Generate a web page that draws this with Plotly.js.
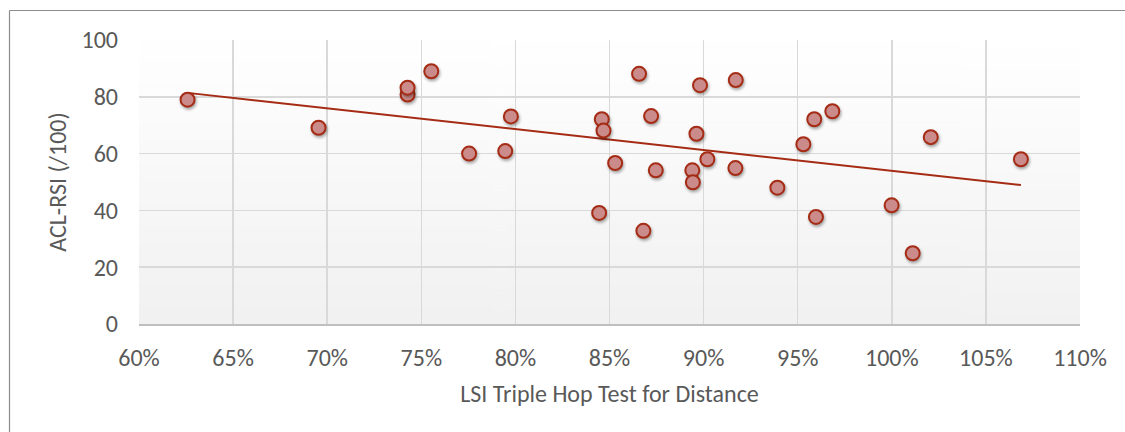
<!DOCTYPE html>
<html>
<head>
<meta charset="utf-8">
<script src="https://cdn.plot.ly/plotly-3.0.1.min.js"></script>
<style>
  html, body { margin: 0; padding: 0; background: #ffffff; }
  #chart { width: 1125px; height: 432px; }
  .shadowed .point { filter: drop-shadow(1px 2px 1.5px rgba(0,0,0,0.35)); }
</style>
</head>
<body>
<div id="chart"></div>
<script>
// LSI Triple Hop Test for Distance (fraction) and ACL-RSI score
const lsiTripleHop = [0.6258, 0.6954, 0.7427, 0.7427, 0.7553, 0.7754, 0.7946, 0.7976,
  0.8445, 0.8459, 0.8468, 0.8530, 0.8657, 0.8680, 0.8721, 0.8746, 0.8940, 0.8943,
  0.8962, 0.8981, 0.9020, 0.9171, 0.9169, 0.9392, 0.9530, 0.9588, 0.9597, 0.9684,
  0.9999, 1.0111, 1.0207, 1.0686];
const aclRsi = [79.0, 69.1, 80.8, 83.2, 89.0, 60.0, 60.9, 73.1,
  39.1, 72.1, 68.1, 56.7, 88.1, 32.8, 73.2, 54.1, 54.1, 49.9,
  67.0, 84.1, 58.0, 85.9, 54.9, 48.0, 63.3, 72.1, 37.7, 74.9,
  41.8, 24.9, 65.8, 58.0];
const xTickVals = [0.60, 0.65, 0.70, 0.75, 0.80, 0.85, 0.90, 0.95, 1.00, 1.05, 1.10];
const yTickVals = [0, 20, 40, 60, 80, 100];
const xTitle = 'LSI Triple Hop Test for Distance';
const yTitle = 'ACL-RSI (/100)';

// linear least-squares trendline (as in the spreadsheet trendline)
const n = lsiTripleHop.length;
const mx = lsiTripleHop.reduce((a, b) => a + b, 0) / n;
const my = aclRsi.reduce((a, b) => a + b, 0) / n;
let sxy = 0, sxx = 0;
for (let i = 0; i < n; i++) {
  sxy += (lsiTripleHop[i] - mx) * (aclRsi[i] - my);
  sxx += (lsiTripleHop[i] - mx) ** 2;
}
const slope = sxy / sxx;
const intercept = my - slope * mx;
const xMin = Math.min(...lsiTripleHop), xMax = Math.max(...lsiTripleHop);
const trendX = [xMin, xMax];
const trendY = trendX.map(v => intercept + slope * v);

// gradient background image for plot area
const cv = document.createElement('canvas');
cv.width = 4; cv.height = 256;
const ctx = cv.getContext('2d');
const g = ctx.createLinearGradient(0, 0, 0, 256);
g.addColorStop(0, '#ffffff');
g.addColorStop(1, '#f1f1f1');
ctx.fillStyle = g; ctx.fillRect(0, 0, 4, 256);
const bgUrl = cv.toDataURL();

const W = 1125, H = 432;
const M = { l: 139, r: 45, t: 40, b: 108 };
const pw = W - M.l - M.r, ph = H - M.t - M.b;
const px = v => (v - M.l) / pw;          // pixel -> paper x
const py = v => 1 - (v - M.t) / ph;      // pixel -> paper y

const font = 'Calibri, Carlito, "Open Sans", sans-serif';
const textCol = '#595959';
const fs = 24;

const traces = [
  {
    x: trendX, y: trendY, type: 'scatter', mode: 'lines',
    line: { color: '#a52b14', width: 2 }, hoverinfo: 'skip', showlegend: false
  },
  {
    x: lsiTripleHop, y: aclRsi, type: 'scatter', mode: 'markers',
    marker: { size: 14, color: '#cb8b8a', line: { color: '#a52b14', width: 2 } },
    showlegend: false
  }
];

const layout = {
  width: W, height: H,
  margin: M,
  paper_bgcolor: '#ffffff',
  plot_bgcolor: 'rgba(0,0,0,0)',
  font: { family: font, size: fs, color: textCol },
  showlegend: false,
  xaxis: {
    range: [0.6, 1.1], tickvals: xTickVals, tickformat: '.0%',
    showgrid: true, gridcolor: '#d9d9d9', gridwidth: 1.5,
    zeroline: false, showline: true, linecolor: '#bfbfbf', linewidth: 1.5,
    ticks: '', ticklabelstandoff: 12,
    tickfont: { family: font, size: fs, color: textCol },
    title: { text: xTitle, standoff: 14, font: { family: font, size: fs, color: textCol } },
    automargin: false, fixedrange: true
  },
  yaxis: {
    range: [0, 100], tickvals: yTickVals,
    showgrid: true, gridcolor: '#d9d9d9', gridwidth: 1.5,
    zeroline: false, showline: false,
    ticks: '', ticklabelstandoff: 20,
    tickfont: { family: font, size: fs, color: textCol },
    title: { text: yTitle, standoff: 8, font: { family: font, size: fs, color: textCol } },
    automargin: false, fixedrange: true
  },
  images: [{
    source: bgUrl, xref: 'paper', yref: 'paper', x: 0, y: 1,
    sizex: 1, sizey: 1, sizing: 'stretch', layer: 'below', xanchor: 'left', yanchor: 'top'
  }],
  shapes: [
    { type: 'line', xref: 'paper', yref: 'paper', x0: px(9.5), x1: px(1200), y0: py(10.5), y1: py(10.5),
      line: { color: '#8c8c8c', width: 1.2 } },
    { type: 'line', xref: 'paper', yref: 'paper', x0: px(9.5), x1: px(9.5), y0: py(10.5), y1: py(500),
      line: { color: '#8c8c8c', width: 1.2 } }
  ]
};

Plotly.newPlot('chart', traces, layout, { displayModeBar: false, staticPlot: true }).then(() => {
  const tr = document.querySelectorAll('.scatterlayer .trace');
  if (tr.length) tr[tr.length - 1].classList.add('shadowed');
});
</script>
</body>
</html>
